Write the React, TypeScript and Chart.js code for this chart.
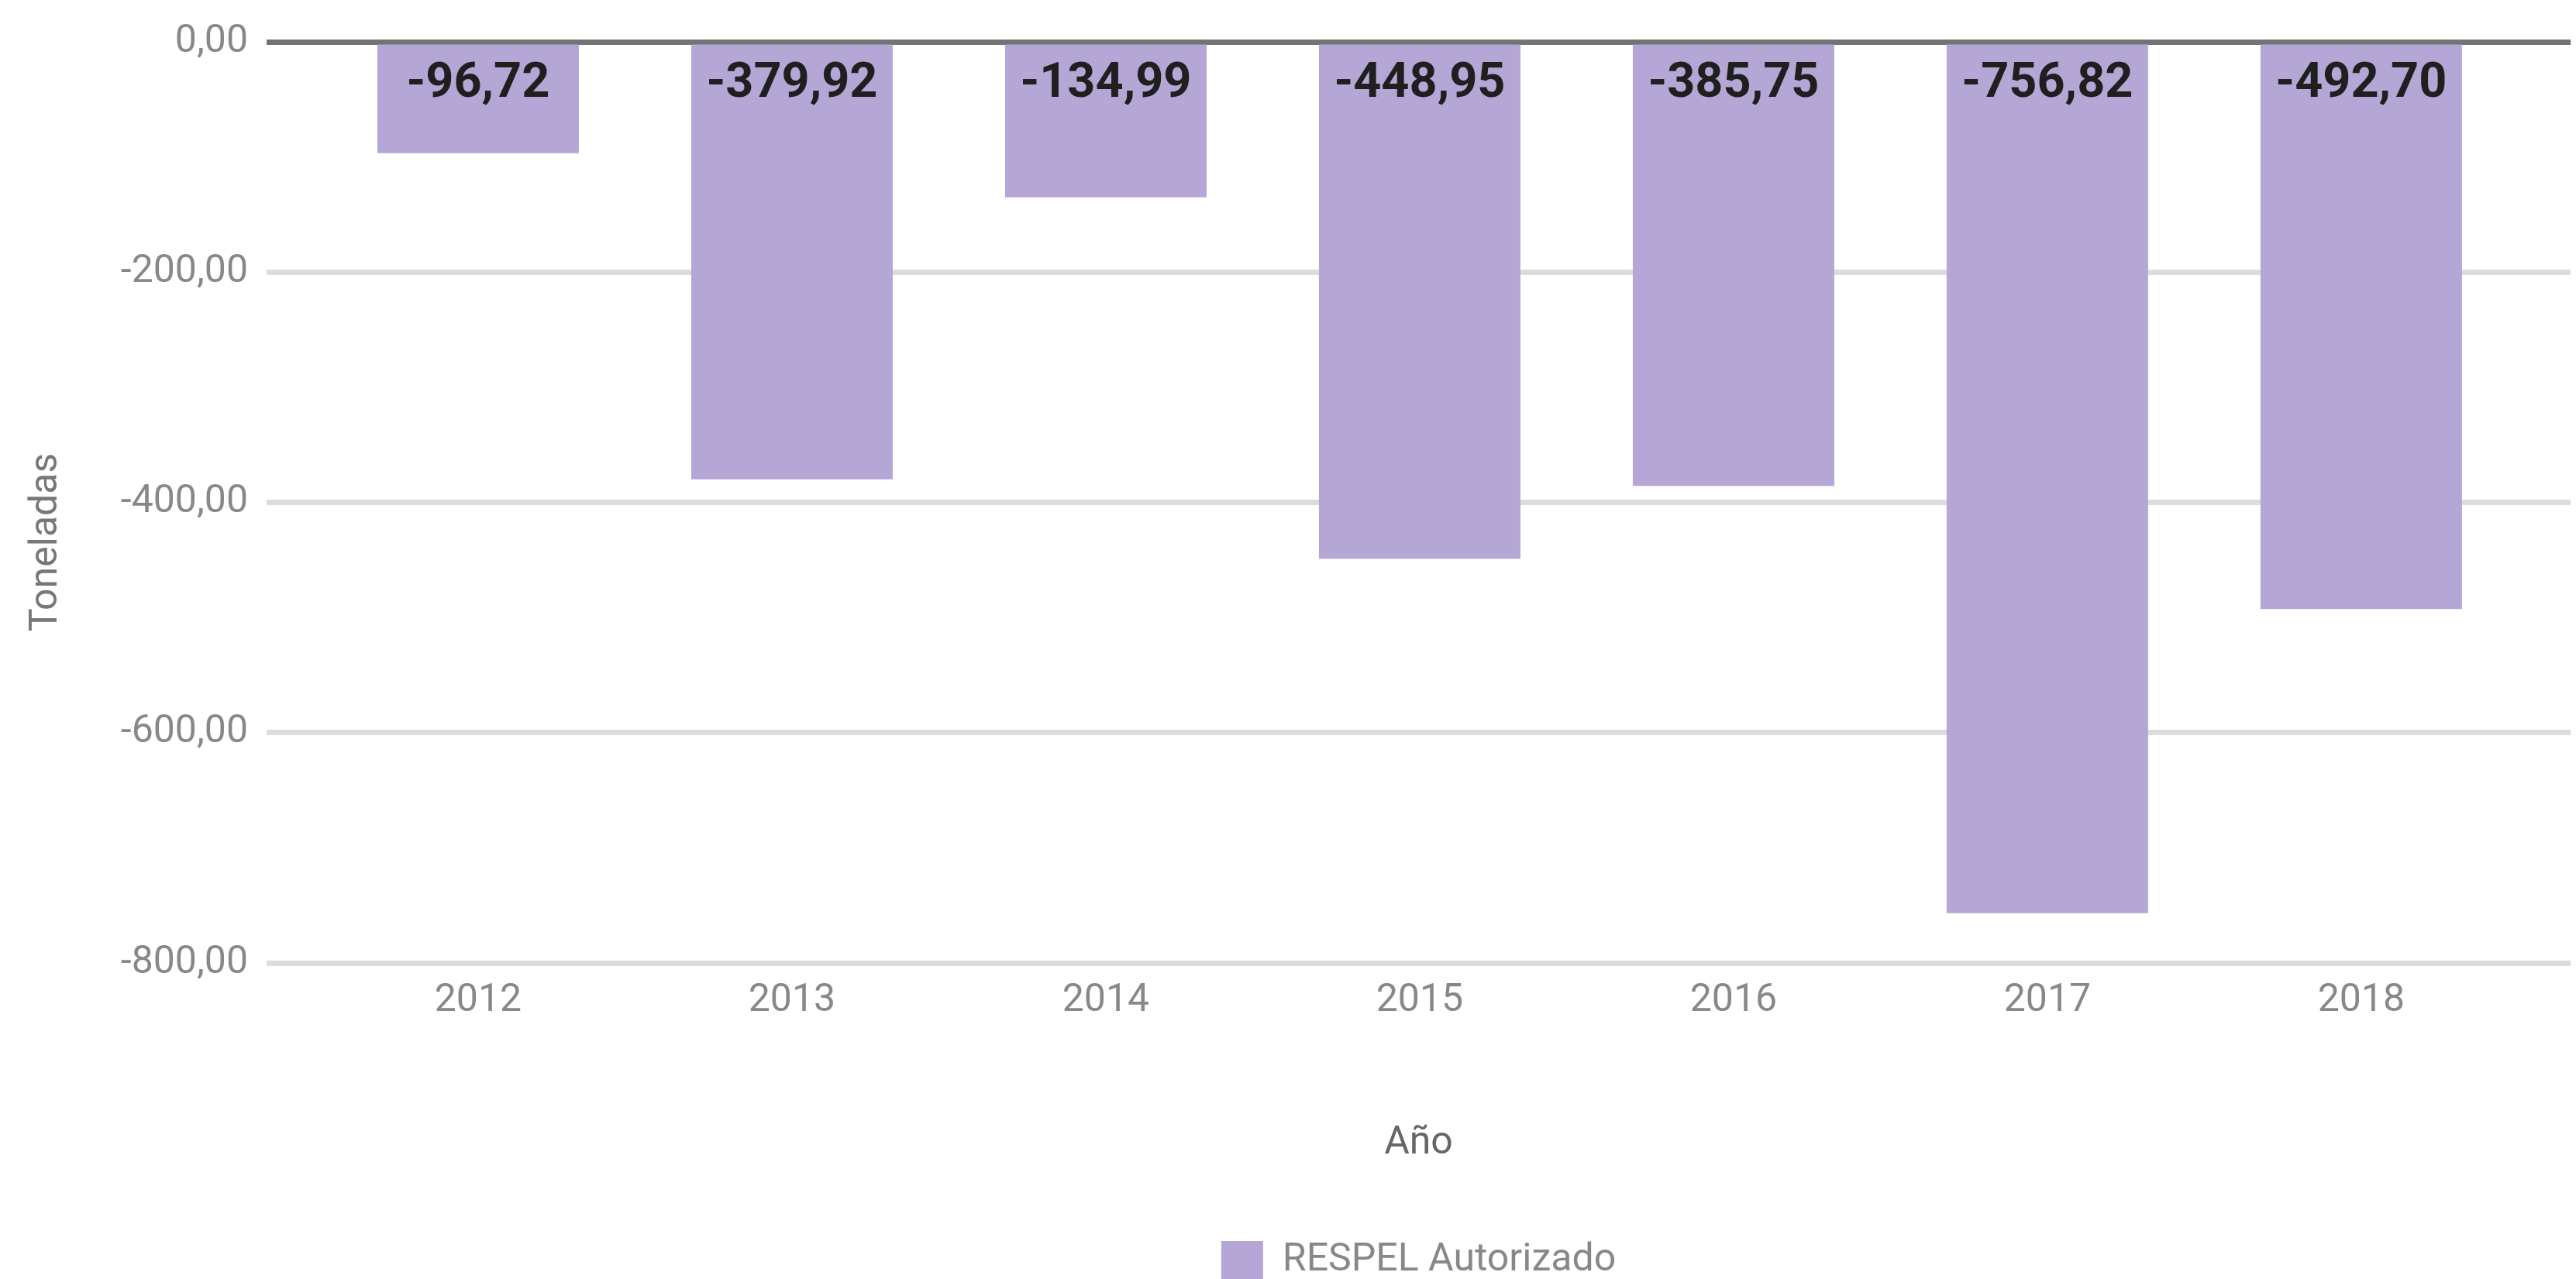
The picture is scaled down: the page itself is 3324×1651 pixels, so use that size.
import React, { useEffect, useRef } from "react";
import { Chart, registerables } from "chart.js";

Chart.register(...registerables);

const years = ["2012", "2013", "2014", "2015", "2016", "2017", "2018"];
const values = [-96.72, -379.92, -134.99, -448.95, -385.75, -756.82, -492.7];
const yTickValues = [0, -200, -400, -600, -800];
const seriesLabel = "RESPEL Autorizado";
const xTitle = "Año";
const yTitle = "Toneladas";

const FONT = "Roboto, 'Noto Sans', sans-serif";

const fmt = (v: number) => {
  const s = Math.abs(v).toFixed(2).replace(".", ",");
  return (v < -0.00001 ? "-" : "") + s;
};

const valueLabels = {
  id: "valueLabels",
  afterDatasetsDraw(chart: any) {
    const { ctx } = chart;
    const meta = chart.getDatasetMeta(0);
    const yZero = chart.scales.y.getPixelForValue(0);
    ctx.save();
    ctx.font = `bold 63px ${FONT}`;
    ctx.fillStyle = "#1f1f1f";
    ctx.textAlign = "center";
    ctx.textBaseline = "middle";
    meta.data.forEach((el: any, i: number) => {
      ctx.fillText(fmt(values[i]), el.x, yZero + 55);
    });
    ctx.restore();
  },
};

const yAxisTitle = {
  id: "yAxisTitle",
  afterDraw(chart: any) {
    const { ctx } = chart;
    ctx.save();
    ctx.translate(60, 700);
    ctx.rotate(-Math.PI / 2);
    ctx.font = `50px ${FONT}`;
    ctx.fillStyle = "#777777";
    ctx.textAlign = "center";
    ctx.textBaseline = "middle";
    ctx.fillText(yTitle, 0, 0);
    ctx.restore();
  },
};

export default function App() {
  const ref = useRef<HTMLCanvasElement | null>(null);

  useEffect(() => {
    if (!ref.current) return;
    const chart = new Chart(ref.current, {
      type: "bar",
      data: {
        datasets: [
          {
            label: seriesLabel,
            data: values.map((v, i) => ({ x: i, y: v })),
            backgroundColor: "#b4a7d6",
            borderWidth: 0,
            barPercentage: 0.642,
            categoryPercentage: 1,
          },
        ],
      },
      options: {
        animation: false,
        responsive: false,
        devicePixelRatio: 1,
        layout: { padding: { top: 43, right: 7, bottom: 1, left: 0 } },
        plugins: {
          tooltip: { enabled: false },
          legend: {
            position: "bottom",
            fullSize: false,
            labels: {
              boxWidth: 54,
              boxHeight: 50,
              padding: 10,
              color: "#888888",
              font: { family: FONT, size: 50 },
            },
          },
        },
        scales: {
          x: {
            type: "linear",
            offset: false,
            min: -0.674,
            max: 6.667,
            afterBuildTicks: (s: any) => {
              s.ticks = years.map((_, i) => ({ value: i }));
            },
            ticks: {
              autoSkip: false,
              maxRotation: 0,
              padding: 19,
              color: "#888888",
              font: { family: FONT, size: 50 },
              callback: (v: any) => years[v as number] ?? "",
            },
            grid: { display: false, drawTicks: false, offset: false },
            border: { display: false },
            title: {
              display: true,
              text: xTitle,
              color: "#666666",
              font: { family: FONT, size: 50 },
              padding: { top: 0, bottom: 86 },
            },
            afterFit: (s: any) => {
              s.height = 349;
            },
          },
          y: {
            min: -800,
            max: 0,
            afterBuildTicks: (s: any) => {
              s.ticks = yTickValues.map((v) => ({ value: v }));
            },
            ticks: {
              padding: 24,
              color: "#888888",
              font: { family: FONT, size: 50 },
              callback: (v: any) => fmt(v as number),
            },
            grid: {
              drawTicks: false,
              color: (c: any) => (c.tick && c.tick.value === 0 ? "#737373" : "#dcdcdc"),
              lineWidth: 7,
            },
            border: { display: false },
            afterFit: (s: any) => {
              s.width = 344;
            },
          },
        },
      } as any,
      plugins: [valueLabels, yAxisTitle],
    });
    return () => chart.destroy();
  }, []);

  return (
    <div style={{ position: "fixed", left: 0, top: 0, background: "#ffffff" }}>
      <canvas ref={ref} width={3324} height={1663} style={{ display: "block" }} />
    </div>
  );
}
